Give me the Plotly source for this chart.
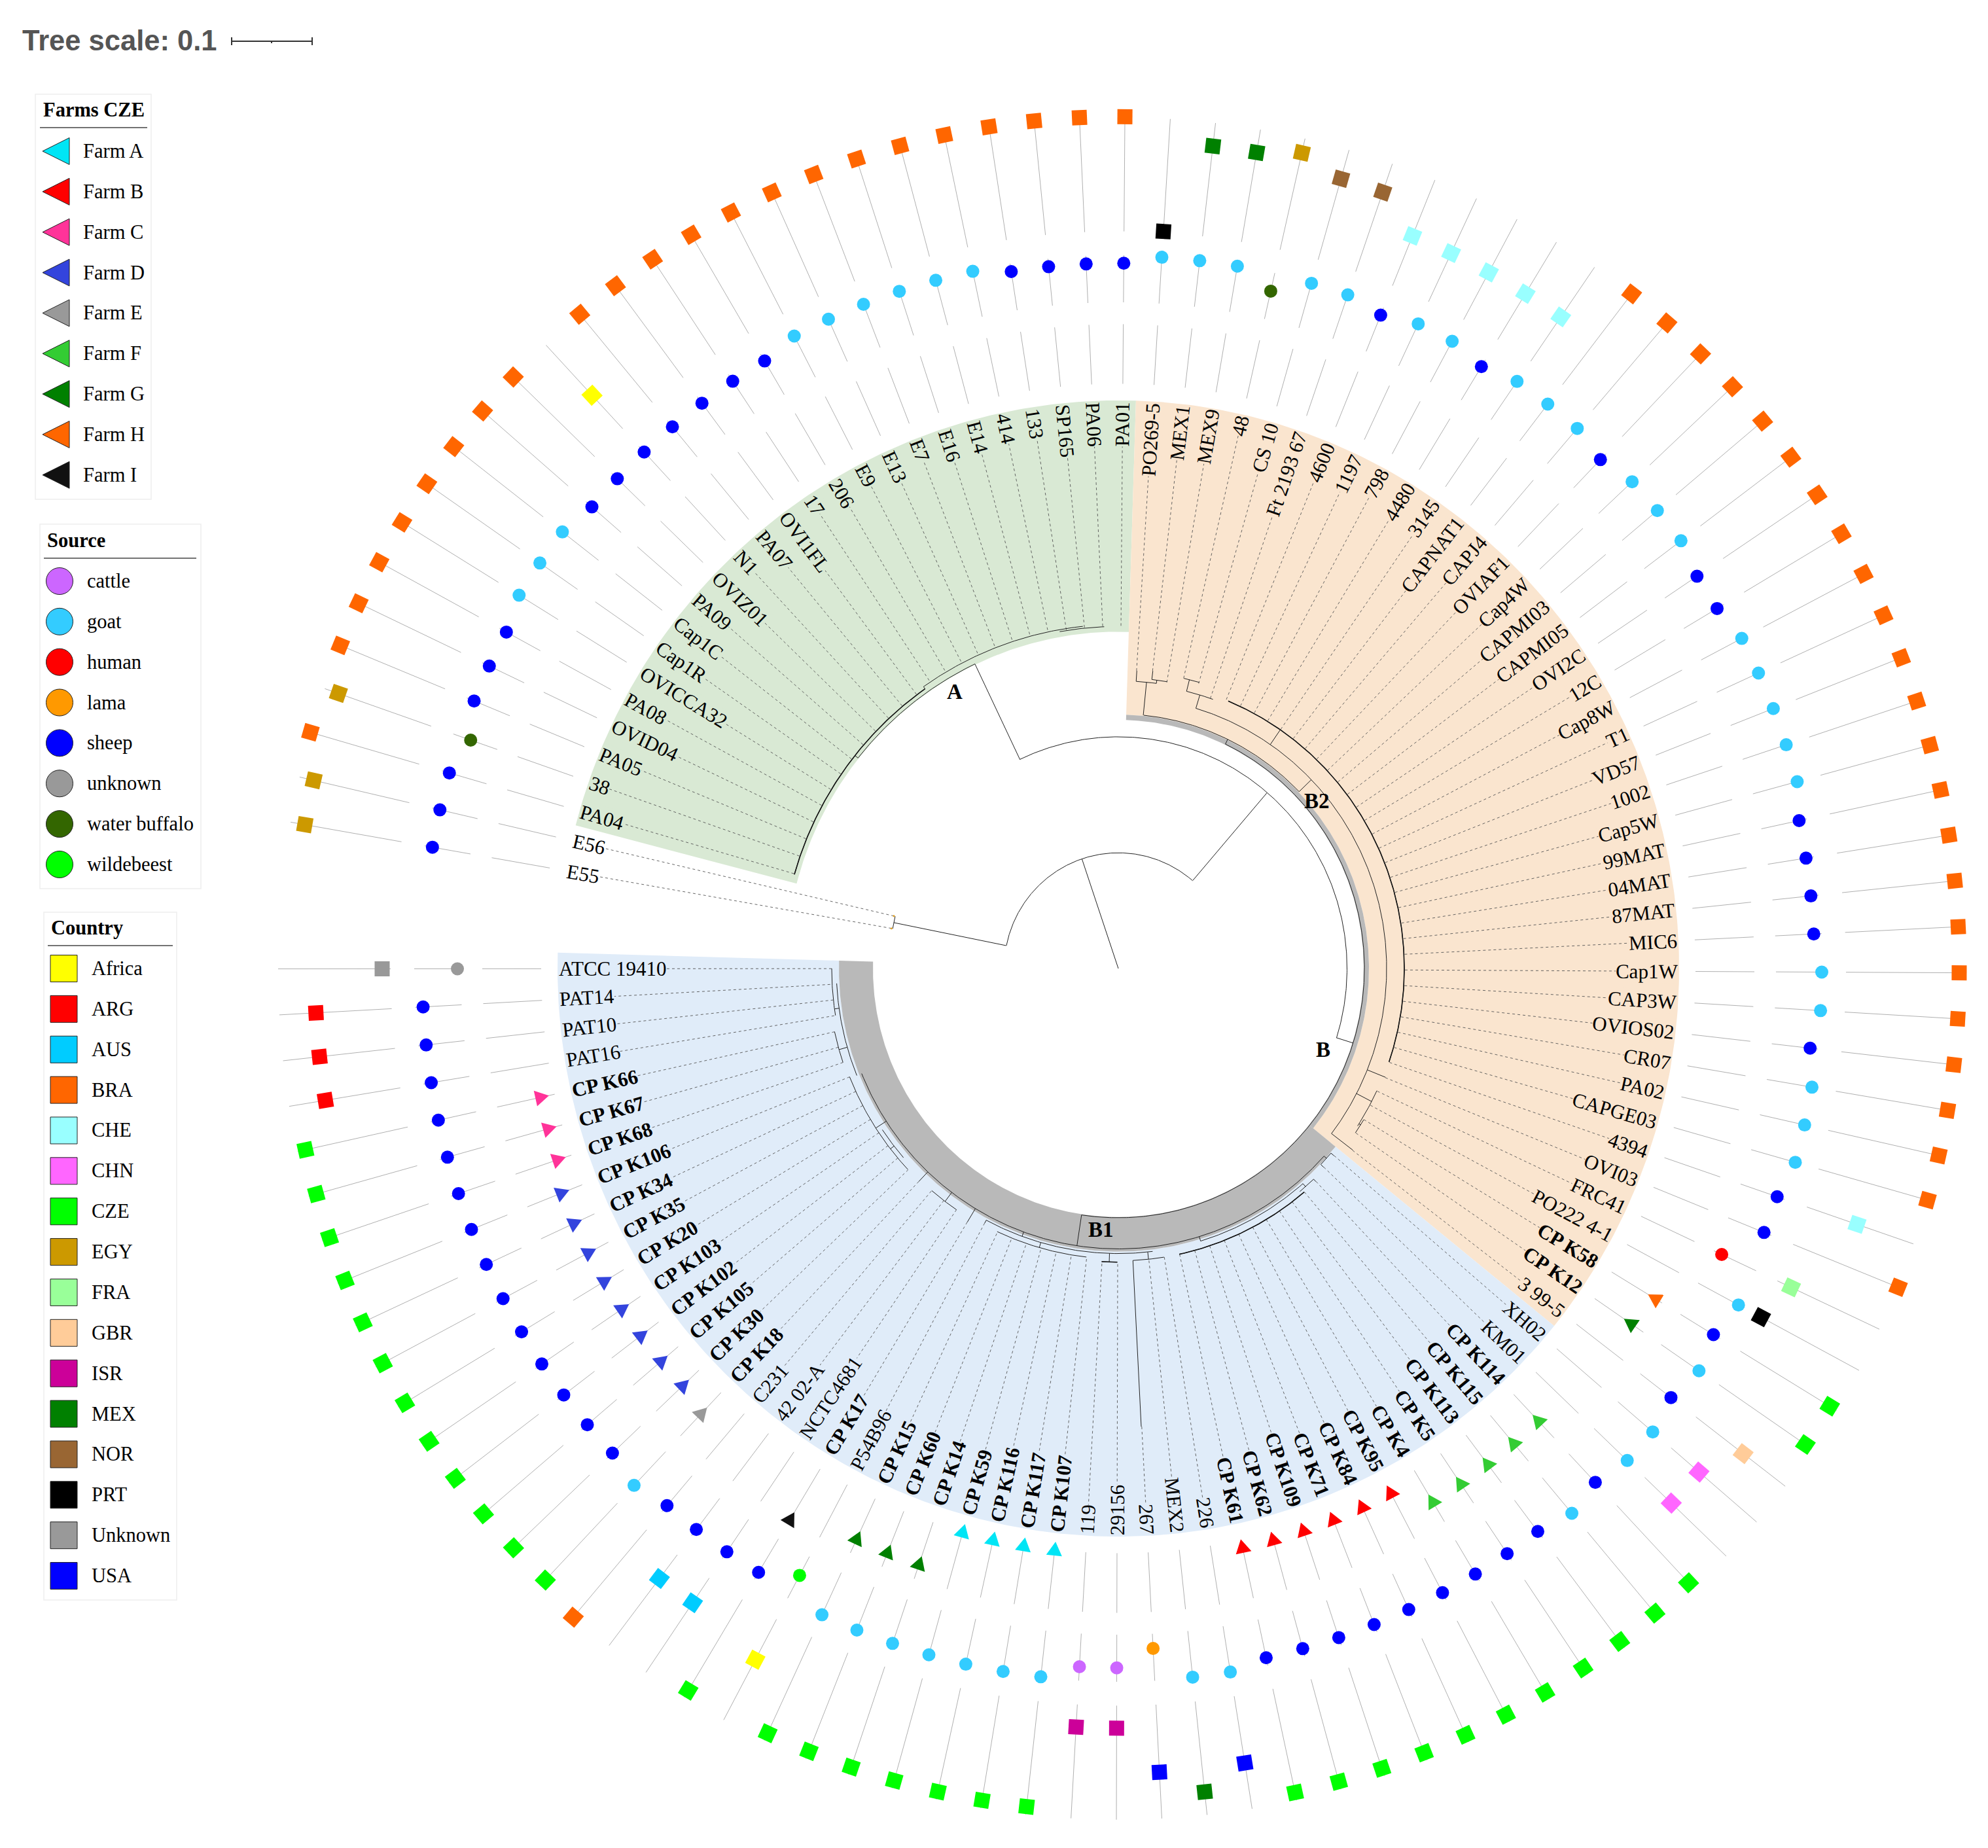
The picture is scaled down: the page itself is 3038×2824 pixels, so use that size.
import numpy as np
import plotly.graph_objects as go

# leaf order runs clockwise, starting at E55
LEAF_NAMES = [
    "E55", "E56", "PA04", "38", "PA05", "OVID04", "PA08", "OVICCA32", "Cap1R", "Cap1C", "PA09", "OVIZ01", "N1",
    "PA07", "OVI1FL", "17", "206", "E9", "E13", "E7", "E16", "E14", "414", "133", "SP165", "PA06", "PA01",
    "PO269-5", "MEX1", "MEX9", "48", "CS 10", "Ft 2193 67", "4600", "1197", "798", "4480", "3145", "CAPNAT1",
    "CAPJ4", "OVIAF1", "Cap4W", "CAPMI03", "CAPMI05", "OVI2C", "12C", "Cap8W", "T1", "VD57", "1002", "Cap5W",
    "99MAT", "04MAT", "87MAT", "MIC6", "Cap1W", "CAP3W", "OVIOS02", "CR07", "PA02", "CAPGE03", "4394", "OVI03",
    "FRC41", "PO222 4-1", "CP K58", "CP K12", "3 99-5",
    "XH02", "KM01", "CP K114", "CP K115", "CP K113", "CP K5", "CP K4", "CP K95", "CP K84", "CP K71", "CP K109",
    "CP K62", "CP K61", "226", "MEX2", "267", "29156", "119", "CP K107", "CP K117", "CP K116", "CP K59", "CP K14",
    "CP K60", "CP K15", "P54B96", "CP K17", "NCTC4681", "42 02-A", "C231", "CP K18", "CP K30", "CP K105",
    "CP K102", "CP K103", "CP K20", "CP K35", "CP K34", "CP K106", "CP K68", "CP K67", "CP K66", "PAT16", "PAT10",
    "PAT14", "ATCC 19410",
]

LEAF_COUNTRY = (
    ["EGY", "EGY", "BRA", "EGY"] + ["BRA"] * 8 + ["Africa"] + ["BRA"] * 14
    + ["PRT", "MEX", "MEX", "EGY", "NOR", "NOR"] + ["CHE"] * 5 + ["BRA"] * 23
    + ["CHE", "BRA", "FRA", "PRT", "CZE", "CZE", "GBR", "CHN", "CHN"] + ["CZE"] * 11
    + ["USA", "MEX", "USA", "ISR", "ISR"] + ["CZE"] * 7 + ["Africa", "CZE", "AUS", "AUS", "BRA"]
    + ["CZE"] * 12 + ["ARG"] * 3 + ["Unknown"]
)

LEAF_SOURCE = (
    ["sheep", "sheep", "sheep", "water buffalo", "sheep", "sheep", "sheep", "goat", "goat", "goat"]
    + ["sheep"] * 7 + ["goat"] * 6 + ["sheep"] * 4
    + ["goat", "goat", "goat", "water buffalo", "goat", "goat", "sheep", "goat", "goat", "sheep", "goat", "goat",
       "goat", "sheep", "goat", "goat", "goat", "sheep", "sheep"]
    + ["goat"] * 5 + ["sheep"] * 4
    + ["goat", "goat", "sheep", "goat", "goat", "goat", "sheep", "sheep", "human", "goat", "sheep", "goat", "sheep",
       "goat", "goat", "sheep", "goat"]
    + ["sheep"] * 9 + ["goat", "goat", "lama", "cattle", "cattle"] + ["goat"] * 7 + ["wildebeest"]
    + ["sheep"] * 4 + ["goat"] + ["sheep"] * 14 + ["unknown"]
)

LEAF_FARM = {
    "CP K107": "Farm A", "CP K117": "Farm A", "CP K116": "Farm A", "CP K59": "Farm A",
    "CP K61": "Farm B", "CP K62": "Farm B", "CP K109": "Farm B", "CP K71": "Farm B", "CP K84": "Farm B",
    "CP K95": "Farm B",
    "CP K66": "Farm C", "CP K67": "Farm C", "CP K68": "Farm C",
    "CP K106": "Farm D", "CP K34": "Farm D", "CP K35": "Farm D", "CP K20": "Farm D", "CP K103": "Farm D",
    "CP K102": "Farm D", "CP K105": "Farm D", "CP K30": "Farm D",
    "CP K18": "Farm E",
    "CP K4": "Farm F", "CP K5": "Farm F", "CP K113": "Farm F", "CP K115": "Farm F", "CP K114": "Farm F",
    "CP K14": "Farm G", "CP K60": "Farm G", "CP K15": "Farm G", "CP K12": "Farm G",
    "CP K58": "Farm H",
    "CP K17": "Farm I",
}

# radius where each leaf's branch ends and its dashed line starts
TIP_R = (
    [352, 352] + [516] * 13 + [522] * 8 + [517] * 4
    + [450, 452, 438, 449, 447, 431] + [438] * 29 + [440, 437, 437, 439, 440, 451]
    + [434, 434, 441] + [441] * 10 + [441, 443, 692, 446, 446] + [441] * 7
    + [435, 447, 440, 440, 441, 443] + [442] * 8 + [444, 444, 444, 440, 438, 441, 438]
)

FARMS = ["Farm A", "Farm B", "Farm C", "Farm D", "Farm E", "Farm F", "Farm G", "Farm H", "Farm I"]
FARM_COLORS = ["#00e5f5", "#ff0000", "#ff3399", "#3344dd", "#999999", "#33cc33", "#008000", "#ff6600", "#111111"]
FARM_R = [884, 895, 905, 917, 927, 938, 950, 961, 972]

SOURCES = ["cattle", "goat", "human", "lama", "sheep", "unknown", "water buffalo", "wildebeest"]
SOURCE_COLORS = ["#cc66ff", "#33ccff", "#ff0000", "#ff9900", "#0000ff", "#999999", "#336600", "#00ff00"]
SOURCE_R = [1055, 1075, 1018, 1027, 1064, 1010, 1048, 1037]

COUNTRIES = ["Africa", "ARG", "AUS", "BRA", "CHE", "CHN", "CZE", "EGY", "FRA", "GBR", "ISR", "MEX", "NOR", "PRT",
             "Unknown", "USA"]
COUNTRY_COLORS = ["#ffff00", "#ff0000", "#00ccff", "#ff6600", "#99ffff", "#ff66ff", "#00ff00", "#cc9900", "#99ff99",
                  "#ffcc99", "#cc0099", "#008000", "#996633", "#000000", "#999999", "#0000ff"]
COUNTRY_R = [1181, 1228, 1157, 1285, 1193, 1168, 1272, 1262, 1135, 1203, 1146, 1249, 1239, 1114, 1125, 1214]

# tree branches: (radius, angle from, angle to) and (angle, radius from, radius to)
TREE_ARCS = [
    (174.5, 168.6, 49.4), (349.5, 115.5, -17.4), (350, 170.1, 167.0),
    (509, 141.4, 115.5), (515, 164.0, 125), (519, 125, 96), (516, 100, 92.4),
    (376, 64.2, -98.6), (384, 84.2, 44), (434, 86.4, 82.3), (439, 83.3, 80.2),
    (410, 73.2, -37.4), (431, 76, 70.4), (449, 77.1, 74.0), (437, 67.4, -18.8),
    (436, -25.0, -33), (439, -31.3, -34.4),
    (423, -42, -158), (428, -40.6, -43.7), (430, -73, -49), (436, -46.8, -50.5), (441, -49.9, -77.8),
    (430, -118, -83), (438, -115, -96.4), (443, -93.3, -90.2), (441, -87.1, -80.9),
    (440, -130.4, -124.2), (442, -158.3, -136.7), (435, -146, -139),
    (444, -167.6, -161.4), (431, -177, -158), (438, -180, -170.7),
]
TREE_RADIALS = [
    (108.6, 0, 174), (168.6, 175, 350), (49.4, 175, 349), (115.5, 349, 509), (-17.4, 349, 376),
    (141.4, 509, 515), (125, 515, 519),
    (64.2, 376, 384), (84.3, 384, 434), (86.4, 434, 450), (83.3, 439, 452), (82.3, 434, 439),
    (44, 384, 410), (73.2, 410, 431), (76, 431, 449), (55.5, 410, 437),
    (-27.4, 410, 436), (-32.5, 436, 439), (-37.4, 410, 451), (-21.9, 410, 440),
    (-98.6, 376, 423), (-42, 423, 428), (-40.6, 428, 434), (-43.7, 428, 434),
    (-73, 423, 430), (-49, 430, 436), (-46.8, 436, 441),
    (-110, 423, 430), (-118, 430, 435), (-106, 430, 438), (-91.8, 430, 443), (-84, 430, 441),
    (-87.1, 441, 692), (-121.1, 423, 447), (-127, 423, 440), (-133.5, 423, 443), (-147, 423, 442),
    (-142, 442, 435), (-164, 431, 444), (-172, 431, 438),
]

CX, CY = 1709, 1480
Y_STRETCH = 1.013
FIRST_ANGLE, STEP = 170.1, 3.098
SERIF = "Liberation Serif"

leaf_angle = FIRST_ANGLE - STEP * np.arange(len(LEAF_NAMES))


def polar_xy(theta, r):
    t = np.radians(theta)
    return CX + r * np.cos(t), CY - Y_STRETCH * r * np.sin(t)


def arc_xy(r, a, b):
    n = max(2, int(abs(a - b) * 2) + 2)
    return polar_xy(np.linspace(a, b, n), r)


def add_band(fig, r_in, r_out, a, b, color):
    xo, yo = arc_xy(r_out, a, b)
    xi, yi = arc_xy(r_in, b, a)
    fig.add_trace(go.Scatter(x=np.r_[xo, xi], y=np.r_[yo, yi], mode="lines", fill="toself", fillcolor=color,
                             line=dict(width=0, color=color)))


def add_segments(fig, segments, color, width, dash="solid"):
    xs, ys = [], []
    for sx, sy in segments:
        xs += list(sx) + [None]
        ys += list(sy) + [None]
    fig.add_trace(go.Scatter(x=xs, y=ys, mode="lines", line=dict(color=color, width=width, dash=dash)))


fig = go.Figure()

# clade backgrounds
add_band(fig, 508, 857, 165.4, 88.2, "#d9e9d4")
add_band(fig, 383, 857, 88.2, -39, "#fae5cf")
add_band(fig, 427, 857, -39, -181.6, "#e0ecf9")
add_band(fig, 375, 383, 88.2, -39, "#b9b9b9")
add_band(fig, 375, 427, -39, -181.6, "#b9b9b9")

# leader lines of the three rings
ring_segments = []
for th in leaf_angle:
    for r1, r2 in [(882, 972), (1005, 1076), (1112, 1284)]:
        ring_segments.append(polar_xy(np.array([th, th]), np.array([r1, r2])))
add_segments(fig, ring_segments, "#b0b0b0", 1)

# dashed lines from branch tips to the labels
dash_segments = [polar_xy(np.array([th, th]), np.array([r, 853])) for th, r in zip(leaf_angle, TIP_R)]
add_segments(fig, dash_segments, "#555555", 0.9, "4px,4px")

# tree
tree_segments = [arc_xy(r, a, b) for r, a, b in TREE_ARCS]
tree_segments += [polar_xy(np.array([th, th]), np.array([r1, r2])) for th, r1, r2 in TREE_RADIALS]
add_segments(fig, tree_segments, "#222222", 1)
add_segments(fig, [arc_xy(*TREE_ARCS[i]) for i in (4, 14, 21, 24)], "#111111", 1.6)

# the two small tips of the E55/E56 pair
x, y = polar_xy(leaf_angle[:2], np.array(TIP_R[:2]))
fig.add_trace(go.Scatter(x=x, y=y, mode="markers", marker=dict(symbol="circle", size=3, color="#e0a020")))

# farm ring, equilateral triangles with one corner towards the centre
TRI_R = 14
for farm, color, fr in zip(FARMS, FARM_COLORS, FARM_R):
    xs, ys = [], []
    for name, th in zip(LEAF_NAMES, leaf_angle):
        if LEAF_FARM.get(name) != farm:
            continue
        mx, my = polar_xy(th, fr)
        for off in (180, 60, -60, 180):
            t = np.radians(th + off)
            xs.append(mx + TRI_R * np.cos(t))
            ys.append(my - TRI_R * np.sin(t))
        xs.append(None)
        ys.append(None)
    fig.add_trace(go.Scatter(x=xs, y=ys, mode="lines", fill="toself", fillcolor=color,
                             line=dict(width=0, color=color)))

# source ring
src_pos = [SOURCES.index(s) for s in LEAF_SOURCE]
x, y = polar_xy(leaf_angle, np.array([SOURCE_R[p] for p in src_pos]))
fig.add_trace(go.Scatter(x=x, y=y, mode="markers", marker=dict(
    symbol="circle", size=20, color=[SOURCE_COLORS[p] for p in src_pos], line=dict(width=0))))

# country ring
cty_pos = [COUNTRIES.index(c) for c in LEAF_COUNTRY]
x, y = polar_xy(leaf_angle, np.array([COUNTRY_R[p] for p in cty_pos]))
fig.add_trace(go.Scatter(x=x, y=y, mode="markers", marker=dict(
    symbol="square", size=23, color=[COUNTRY_COLORS[p] for p in cty_pos],
    angle=list(-leaf_angle), line=dict(width=0))))

annotations = []


def add_text(text, x, y, size=30, bold=False, family=SERIF, color="#000000", xanchor="left", yanchor="middle"):
    annotations.append(dict(x=x, y=y, xref="x", yref="y", text=f"<b>{text}</b>" if bold else text, showarrow=False,
                            font=dict(family=family, size=size, color=color), xanchor=xanchor, yanchor=yanchor,
                            borderpad=0, borderwidth=0))


# leaf labels: the outer end of every label sits on the same circle
HALF_H = 17.5
for i, (name, th) in enumerate(zip(LEAF_NAMES, leaf_angle)):
    ex, ey = polar_xy(th, 855)
    t = np.radians(th)
    right = np.cos(t) > 0.001
    upper = np.sin(t) > 0
    ax = ex + HALF_H * abs(np.sin(t)) if right else ex - HALF_H * abs(np.sin(t))
    ay = ey - HALF_H * abs(np.cos(t)) if upper else ey + HALF_H * abs(np.cos(t))
    angle = -th if right else 180 - th
    angle = (angle + 180) % 360 - 180
    if i < 2:
        bg = "#ffffff"
    elif i < 27:
        bg = "#d9e9d4"
    elif i < 68:
        bg = "#fae5cf"
    else:
        bg = "#e0ecf9"
    annotations.append(dict(x=ax, y=ay, xref="x", yref="y", showarrow=False,
                            text=f"<b>{name}</b>" if name.startswith("CP K") else name,
                            textangle=angle, bgcolor=bg, borderpad=0, borderwidth=0,
                            xanchor="right" if right else "left", yanchor="top" if upper else "bottom",
                            font=dict(family=SERIF, size=31, color="#000000")))

# clade labels
for text, lx, ly in [("A", 1459, 1057), ("B2", 2012, 1224), ("B", 2022, 1604), ("B1", 1682, 1879)]:
    add_text(text, lx, ly, size=33, bold=True, xanchor="center")

# tree scale
add_text("Tree scale: 0.1", 34, 62, size=43.5, bold=True, family="Liberation Sans", color="#555555")
add_segments(fig, [([354, 477], [63, 63]), ([354, 354], [57, 69]), ([477, 477], [57, 69]), ([415, 415], [63, 66])],
             "#333333", 2)

shapes = []


def legend_box(x0, y0, x1, y1, title, title_x, title_y, rule_x0, rule_x1, rule_y, center=False):
    shapes.append(dict(type="rect", xref="x", yref="y", x0=x0, y0=y0, x1=x1, y1=y1,
                       line=dict(color="#eeeeee", width=1.5), fillcolor="#ffffff", layer="below"))
    shapes.append(dict(type="line", xref="x", yref="y", x0=rule_x0, x1=rule_x1, y0=rule_y, y1=rule_y,
                       line=dict(color="#444444", width=1.5)))
    add_text(title, title_x, title_y, size=30.5, bold=True, xanchor="center" if center else "left")


# farms legend
legend_box(54, 144, 231, 763, "Farms CZE", 143, 168, 61, 225, 195, center=True)
for k, (name, col) in enumerate(zip(FARMS, FARM_COLORS)):
    ly = 231 + 61.85 * k
    fig.add_trace(go.Scatter(x=[65, 106, 106, 65], y=[ly, ly - 20.5, ly + 20.5, ly], mode="lines", fill="toself",
                             fillcolor=col, line=dict(color="#222222", width=1)))
    add_text(name, 127, ly, size=30.5)

# source legend
legend_box(61, 801, 307, 1358, "Source", 72, 826, 67, 300, 853)
fig.add_trace(go.Scatter(x=[91] * len(SOURCES), y=[888 + 61.85 * k for k in range(len(SOURCES))], mode="markers",
                         marker=dict(symbol="circle", size=41, color=SOURCE_COLORS,
                                     line=dict(color="#222222", width=1))))
for k, name in enumerate(SOURCES):
    add_text(name, 133, 888 + 61.85 * k, size=30.5)

# country legend
legend_box(67, 1394, 270, 2445, "Country", 78, 1418, 73, 264, 1445)
fig.add_trace(go.Scatter(x=[97.5] * len(COUNTRIES), y=[1480 + 61.87 * k for k in range(len(COUNTRIES))],
                         mode="markers", marker=dict(symbol="square", size=41, color=COUNTRY_COLORS,
                                                     line=dict(color="#222222", width=1))))
for k, name in enumerate(COUNTRIES):
    add_text(name, 139.5, 1480 + 61.87 * k, size=30.5)

fig.update_layout(
    width=3038,
    height=2824,
    margin=dict(l=0, r=0, t=0, b=0),
    paper_bgcolor="#ffffff",
    plot_bgcolor="#ffffff",
    showlegend=False,
    annotations=annotations,
    shapes=shapes,
    xaxis=dict(range=[0, 3038], visible=False, fixedrange=True),
    yaxis=dict(range=[2824, 0], visible=False, fixedrange=True),
)

fig.write_html("out.html", config=dict(displayModeBar=False), post_script="document.body.style.margin='0';")
